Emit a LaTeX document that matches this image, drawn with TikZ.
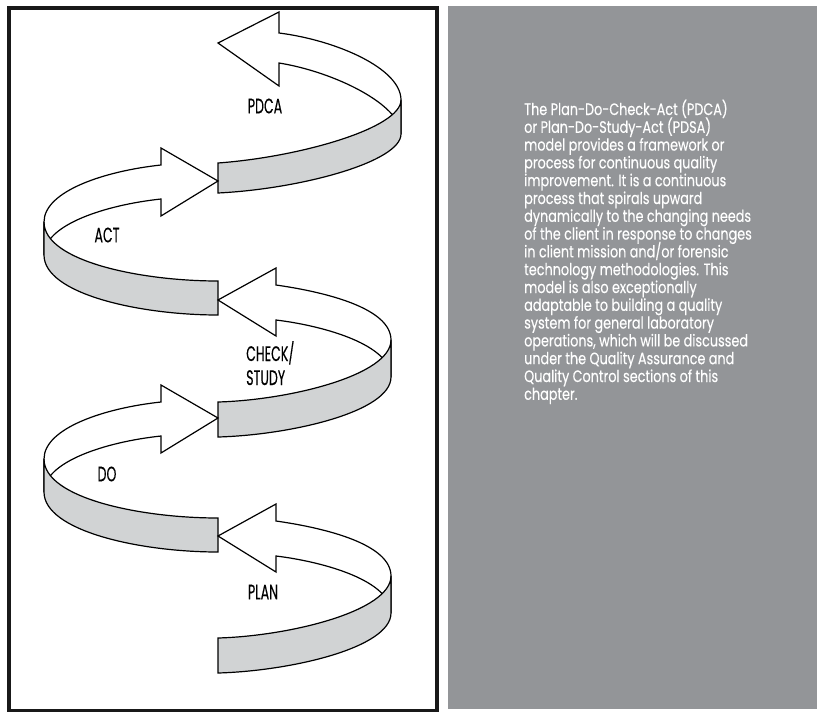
\documentclass[tikz,border=0pt]{standalone}
\usepackage{fontspec}
\newfontfamily\bodyfont[FakeStretch=0.775,FakeBold=0.25]{Poppins}
\newfontfamily\lblfont[FakeStretch=0.6,FakeBold=0.25]{Poppins}
\definecolor{panelgray}{RGB}{147,149,152}
\definecolor{bandgray}{RGB}{209,211,212}
\newcommand{\rloop}[1]{%
\begin{scope}[shift={(0,#1)}]
\draw[back] (218,0) -- (276,-32) -- (276,-15) .. controls (325,-8) and (391,8) .. (391,40) -- (391,77) .. controls (391,45) and (325,26) .. (276,20) -- (276,36) -- cycle;
\draw[front] (218,102) .. controls (290,100) and (391,75) .. (391,40) -- (391,77) .. controls (391,112) and (290,135) .. (218,137) -- cycle;
\end{scope}}
\newcommand{\lloop}[1]{%
\begin{scope}[shift={(0,#1)}]
\draw[back] (218,0) -- (161,-33) -- (161,-16) .. controls (105,-10) and (44,10) .. (44,41) -- (44,74) .. controls (44,44) and (105,24) .. (161,18) -- (161,35) -- cycle;
\draw[front] (44,41) .. controls (44,80) and (140,100) .. (218,100) -- (218,134) .. controls (140,134) and (44,113) .. (44,74) -- cycle;
\end{scope}}
\begin{document}
\begin{tikzpicture}[x=1pt,y=-1pt,
  ribbon/.style={draw=black, line width=1.2pt, line join=miter},
  back/.style={ribbon, fill=white},
  front/.style={ribbon, fill=bandgray},
  lbl/.style={font=\lblfont\fontsize{21}{24}\selectfont, inner sep=0pt, text=black},
  bodyline/.style={font=\bodyfont\fontsize{16.5}{18}\selectfont, text=white, anchor=base west, inner sep=0pt}]
\useasboundingbox (0,0) rectangle (817,712);
\fill[white] (0,0) rectangle (817,712);
\fill[panelgray] (448,6) rectangle (817,709);
\draw[line width=4pt, black!90] (9,8) rectangle (437,711);
% PDCA loop (top)
\draw[back] (218,43) -- (279,12) -- (279,33) .. controls (335,40) and (401,68) .. (401,100) -- (401,134) .. controls (401,105) and (335,72) .. (279,63) -- (279,86) -- cycle;
\draw[front] (218,163) .. controls (300,157) and (401,128) .. (401,100) -- (401,134) .. controls (401,162) and (300,189) .. (218,193) -- cycle;
\lloop{181}
\rloop{300}
\lloop{418}
\rloop{536}
% labels
\node[lbl] (pdca) at (265,106) {PDCA};
\node[lbl] (act) at (107,235) {ACT};
\node[lbl, anchor=base west] (check) at (246,361) {CHECK/};
\node[lbl, anchor=base west] (study) at (246,385) {STUDY};
\node[lbl] (do) at (107,474) {DO};
\node[lbl] (plan) at (263,592) {PLAN};
% body text
\foreach \t [count=\i] in {
 {The Plan-Do-Check-Act (PDCA)},
 {or Plan-Do-Study-Act (PDSA)},
 {model provides a framework or},
 {process for continuous quality},
 {improvement. It is a continuous},
 {process that spirals upward},
 {dynamically to the changing needs},
 {of the client in response to changes},
 {in client mission and/or forensic},
 {technology methodologies. This},
 {model is also exceptionally},
 {adaptable to building a quality},
 {system for general laboratory},
 {operations, which will be discussed},
 {under the Quality Assurance and},
 {Quality Control sections of this},
 {chapter.}}
 \node[bodyline] (body\i) at (524,{115+17.8*(\i-1)}) {\t};
\end{tikzpicture}
\end{document}
